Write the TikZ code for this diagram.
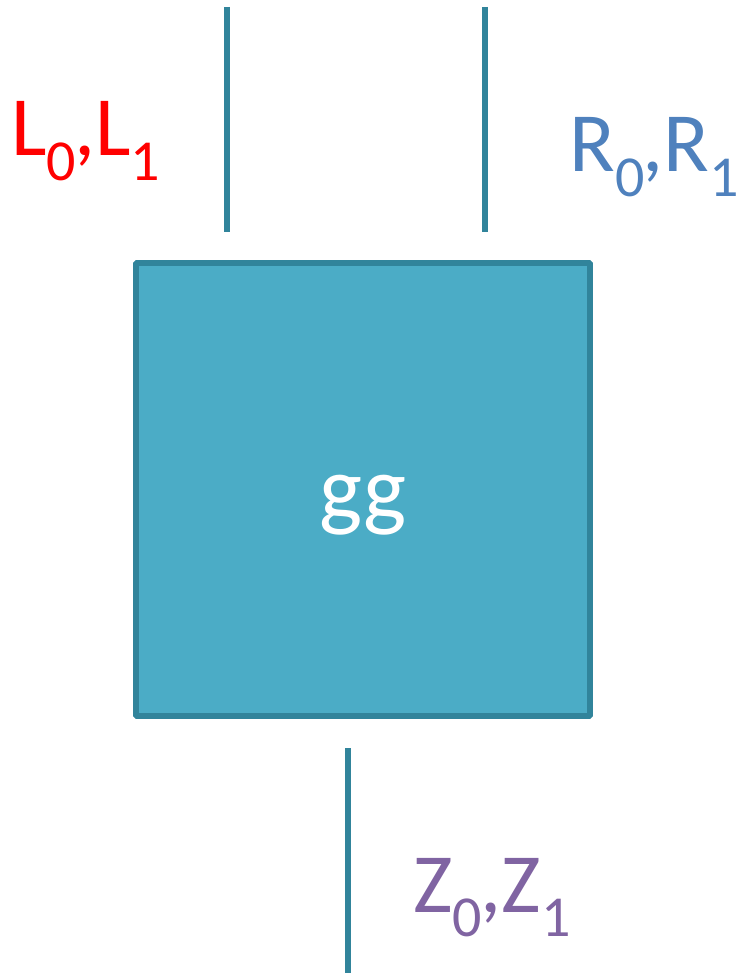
\documentclass[tikz,border=0pt]{standalone}
\usepackage{fontspec}
\setmainfont{Carlito}
\usetikzlibrary{positioning,calc}
\definecolor{gatefill}{HTML}{4BACC6}
\definecolor{gateline}{HTML}{31849B}
\definecolor{lred}{HTML}{FF0000}
\definecolor{rblue}{HTML}{4F81BD}
\definecolor{zpurple}{HTML}{8064A2}
\newcommand{\wsub}[1]{\raisebox{-0.6ex}{\fontsize{33}{33}\selectfont #1}}
\newcommand{\wirelab}[1]{#1\wsub{0}\kern-1pt,#1\wsub{1}}
\tikzset{gatebox/.style={draw=gateline,fill=gatefill,line width=3.2pt,rounded corners=0.5pt,minimum width=9.08cm,minimum height=9.06cm,inner sep=0pt},
wire/.style={draw=gateline,line width=3.2pt},
lab/.style={font=\fontsize{48}{48}\selectfont,anchor=base west,inner sep=0pt}}

\begin{document}
\begin{tikzpicture}[x=0.02cm,y=-0.02cm]
\useasboundingbox (0,0) rectangle (737,973);
\node[gatebox] (gg) at (363,489.5) {};
\node[font=\fontsize{52}{52}\selectfont,text=white] (ggtext) at (363,505) {gg};
% wires
\coordinate (ltop) at (227,7);
\coordinate (lbot) at (227,232);
\coordinate (rtop) at (485,7);
\coordinate (rbot) at (485,232);
\coordinate (ztop) at (348,748);
\coordinate (zbot) at (348,973);
\draw[wire] (ltop) -- (lbot);
\draw[wire] (rtop) -- (rbot);
\draw[wire] (ztop) -- (zbot);
% labels
\node[lab,text=lred] (llab) at (11,156) {\wirelab{L}};
\node[lab,text=rblue] (rlab) at (569,172) {\wirelab{R}};
\node[lab,text=zpurple] (zlab) at (413,912) {\wirelab{Z}};
\end{tikzpicture}
\end{document}
